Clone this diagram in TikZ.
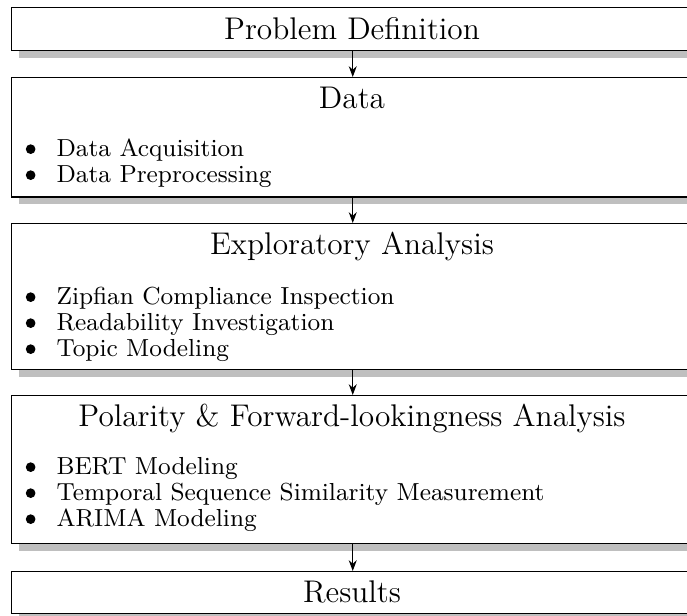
\documentclass[tikz,border=0pt]{standalone}
\usepackage{amsmath, amssymb}
\usepackage{tikz}
\usetikzlibrary{shadows}
\usetikzlibrary{arrows.meta}

\tikzset{
    stage/.style={shape=rectangle, draw=black, line width=0.5pt, fill=white,
        anchor=north west, inner sep=0pt, minimum width=239.4pt,
        drop shadow={shadow xshift=2.5pt, shadow yshift=-2.5pt, fill=black!25, opacity=1}},
    title/.style={font=\fontsize{11}{13.6}\selectfont, inner sep=0pt},
    point/.style={font=\fontsize{8.65}{10.5}\selectfont, anchor=mid west, inner sep=0pt},
    flow/.style={-{Stealth[length=3.8pt, width=2.8pt]}, line width=0.4pt}}

\begin{document}
\begin{tikzpicture}[x=0.351pt, y=-0.351pt]

            \useasboundingbox (0,0) rectangle (687,615);

            % stages
            \node[stage, minimum height=15.1pt] (P) at (11,7) {};
            \node[stage, minimum height=41.8pt] (D) at (11,77) {};
            \node[stage, minimum height=51.2pt] (E) at (11,223) {};
            \node[stage, minimum height=51.9pt] (A) at (11,395) {};
            \node[stage, minimum height=14.7pt] (R) at (11,571) {};

            % titles
            \node[title] (Pt) at (352,29) {Problem Definition};
            \node[title] (Dt) at (352,98) {Data};
            \node[title] (Et) at (352,246) {Exploratory Analysis};
            \node[title] (At) at (352,418) {Polarity \& Forward-lookingness Analysis};
            \node[title] (Rt) at (352,592) {Results};

            % items
            \node[point] (D1) at (56,150) {Data Acquisition};
            \node[point] (D2) at (56,176) {Data Preprocessing};
            \node[point] (E1) at (56,298) {Zipfian Compliance Inspection};
            \node[point] (E2) at (56,324) {Readability Investigation};
            \node[point] (E3) at (56,350) {Topic Modeling};
            \node[point] (A1) at (56,468) {BERT Modeling};
            \node[point] (A2) at (56,494) {Temporal Sequence Similarity Measurement};
            \node[point] (A3) at (56,520) {ARIMA Modeling};

            % bullets
            \foreach \n in {D1,D2,E1,E2,E3,A1,A2,A3}
                \fill ([xshift=-8.9pt, yshift=0.3pt]\n.mid west) circle (1.7pt);

            \draw[flow] (P.south) -- (D.north);
            \draw[flow] (D.south) -- (E.north);
            \draw[flow] (E.south) -- (A.north);
            \draw[flow] (A.south) -- (R.north);

        \end{tikzpicture}
\end{document}
